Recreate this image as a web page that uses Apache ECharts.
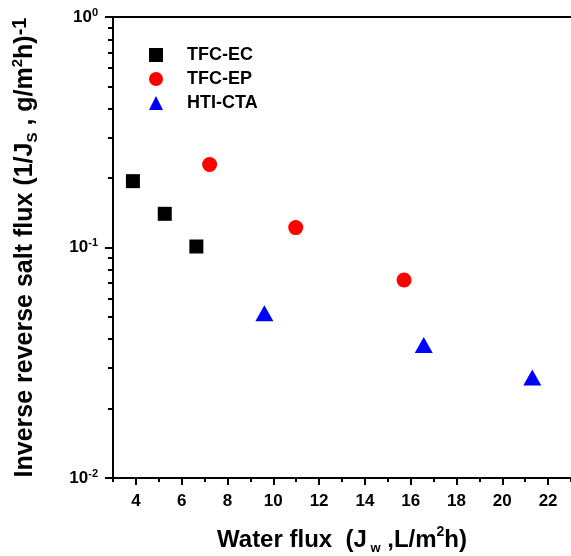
<!DOCTYPE html>
<html>
<head>
<meta charset="utf-8">
<script src="https://cdn.jsdelivr.net/npm/echarts@6/dist/echarts.min.js"></script>
<style>
  html, body { margin: 0; padding: 0; background: #fff; }
  #chart { width: 571px; height: 556px; }
</style>
</head>
<body>
<div id="chart"></div>
<script>
// data
var ecX = [3.87, 5.26, 6.64];
var ecY = [0.194, 0.140, 0.101];
var epX = [7.22, 10.98, 15.71];
var epY = [0.229, 0.122, 0.0723];
var ctaX = [9.61, 16.57, 21.31];
var ctaY = [0.0518, 0.0378, 0.0273];

var xMajor = [4, 6, 8, 10, 12, 14, 16, 18, 20, 22];
var xMinor = [3, 5, 7, 9, 11, 13, 15, 17, 19, 21, 23];
var yMinor = [0.02, 0.03, 0.04, 0.05, 0.06, 0.07, 0.08, 0.09,
              0.2, 0.3, 0.4, 0.5, 0.6, 0.7, 0.8, 0.9];

var FONT = 'Liberation Sans, Arial, sans-serif';

function pairs(xs, ys) {
    return xs.map(function (x, i) { return [x, ys[i]]; });
}

function txt(size, extra) {
    var s = { fontFamily: FONT, fontWeight: 'bold', fontSize: size, color: '#000' };
    for (var k in extra) s[k] = extra[k];
    return s;
}

// hidden line, only the ticks of this axis are wanted
var noLine = { show: true, onZero: false, lineStyle: { color: '#000', opacity: 0 } };

document.addEventListener('DOMContentLoaded', function () {
    var chart = echarts.init(document.getElementById('chart'));
    chart.setOption({
        animation: false,
        backgroundColor: '#fff',
        grid: {
            left: 113, top: 17, width: 458, height: 461,
            containLabel: false, outerBoundsMode: 'none'
        },
        legend: {
            orient: 'vertical',
            left: 144, top: 41,
            itemWidth: 14, itemHeight: 14, itemGap: 6,
            textStyle: txt(18, { padding: [0, 0, 0, 19] }),
            data: [
                { name: 'TFC-EC', icon: 'rect' },
                { name: 'TFC-EP', icon: 'circle' },
                { name: 'HTI-CTA', icon: 'triangle' }
            ]
        },
        xAxis: [
            {
                type: 'value', min: 3, max: 23, position: 'bottom',
                name: '{a|Water flux  (J}{sub| w}{a| ,L/m}{sup|2}{a|h)}',
                nameLocation: 'middle', nameGap: 47,
                nameTextStyle: {
                    rich: {
                        a: txt(24, { lineHeight: 30 }),
                        sub: txt(13, { lineHeight: 14, verticalAlign: 'bottom' }),
                        sup: txt(14, { lineHeight: 16, verticalAlign: 'top' })
                    }
                },
                axisLine: { onZero: false, lineStyle: { color: '#000', width: 2 } },
                axisTick: { customValues: xMajor, length: 7, lineStyle: { color: '#000', width: 2 } },
                axisLabel: txt(17, { customValues: xMajor, margin: 15 }),
                splitLine: { show: false }
            },
            {
                type: 'value', min: 3, max: 23, position: 'bottom',
                axisLine: noLine,
                axisTick: { customValues: xMinor, length: 4, lineStyle: { color: '#000', width: 2, opacity: 1 } },
                axisLabel: { show: false },
                splitLine: { show: false }
            },
            {
                type: 'value', min: 3, max: 23, position: 'top',
                axisLine: { onZero: false, lineStyle: { color: '#000', width: 2 } },
                axisTick: { show: false },
                axisLabel: { show: false },
                splitLine: { show: false }
            }
        ],
        yAxis: [
            {
                type: 'log', logBase: 10, min: 0.01, max: 1, position: 'left',
                name: '{a|Inverse reverse salt flux (1/J}{sub|S}{a| , g/m}{sup|2}{a|h)}{sup1|-1}',
                nameLocation: 'middle', nameGap: 73,
                nameTextStyle: {
                    rich: {
                        a: txt(25, { lineHeight: 30 }),
                        sub: txt(15, { lineHeight: 15, verticalAlign: 'bottom' }),
                        sup: txt(15, { lineHeight: 16, verticalAlign: 'top' }),
                        sup1: txt(20, { lineHeight: 16, verticalAlign: 'top' })
                    }
                },
                axisLine: { onZero: false, lineStyle: { color: '#000', width: 2 } },
                axisTick: { length: 8, lineStyle: { color: '#000', width: 2 } },
                axisLabel: {
                    margin: 15,
                    formatter: function (v) {
                        return '{b|10}{s|' + Math.round(Math.log10(v)) + '}';
                    },
                    rich: {
                        b: txt(17, { lineHeight: 20 }),
                        s: txt(11, { lineHeight: 12, verticalAlign: 'top' })
                    }
                },
                splitLine: { show: false }
            },
            {
                // minor ticks of the log axis, placed in log10 space
                type: 'value', min: -2, max: 0, position: 'left',
                axisLine: noLine,
                axisTick: {
                    show: true,
                    customValues: yMinor.map(function (v) { return Math.log10(v); }),
                    length: 5, lineStyle: { color: '#000', width: 2, opacity: 1 }
                },
                axisLabel: { show: false },
                splitLine: { show: false }
            }
        ],
        series: [
            {
                name: 'TFC-EC', type: 'scatter', symbol: 'rect', symbolSize: 14,
                itemStyle: { color: '#000000', opacity: 1 },
                data: pairs(ecX, ecY)
            },
            {
                name: 'TFC-EP', type: 'scatter', symbol: 'circle', symbolSize: 15,
                itemStyle: { color: '#ff0000', opacity: 1 },
                data: pairs(epX, epY)
            },
            {
                name: 'HTI-CTA', type: 'scatter', symbol: 'triangle', symbolSize: [18, 16],
                itemStyle: { color: '#0000ff', opacity: 1 },
                data: pairs(ctaX, ctaY)
            }
        ]
    });
});
</script>
</body>
</html>
